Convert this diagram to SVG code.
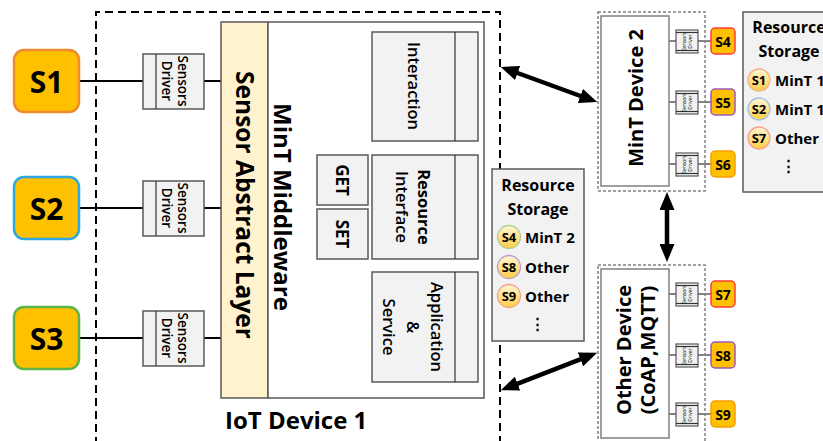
<svg xmlns="http://www.w3.org/2000/svg" width="823" height="441" viewBox="0 0 823 441">
<defs>
<style>
text{font-family:"Open Sans","Noto Sans","Liberation Sans",sans-serif;fill:#000}
.b{font-weight:700}
.sn{font-weight:700;font-size:30px}
.ss{font-weight:700;font-size:14px}
.big{fill:#FFC000;stroke-width:2.5}
.sm{fill:#FFC000;stroke-width:1.5}
.box{fill:#F2F2F2;stroke:#595959;stroke-width:1.5}
.drv{fill:#F2F2F2;stroke:#595959;stroke-width:1.2}
.ln{stroke:#000;stroke-width:2;fill:none}
.ln2{stroke:#333;stroke-width:1.2;fill:none}
.arr{stroke:#000;stroke-width:4.5;fill:none;marker-start:url(#ah);marker-end:url(#ah)}
.dash{fill:none;stroke:#000;stroke-width:2;stroke-dasharray:8 5}
.dot{fill:none;stroke:#808080;stroke-width:1.5;stroke-dasharray:3 2}
.circ{fill:url(#cg);stroke-width:1.3}
.st{font-weight:700;font-size:16px}
.it{font-weight:700;font-size:15px}
.cs{font-weight:700;font-size:13px}
.dt{font-size:13.5px;font-weight:600}
.bt{font-size:16.5px;font-weight:600}
</style>
<linearGradient id="cg" x1="0" y1="0" x2="0" y2="1">
<stop offset="0" stop-color="#FFF6D5"/>
<stop offset="1" stop-color="#FFCC44"/>
</linearGradient>
<marker id="ah" markerUnits="userSpaceOnUse" markerWidth="19" markerHeight="15" refX="6" refY="7.5" orient="auto-start-reverse" viewBox="0 0 19 15">
<path d="M0,0 L18,7.5 L0,15 z" fill="#000"/>
</marker>
</defs>

<!-- IoT Device 1 border -->
<path class="dash" d="M96,445 V12 H500 V445"/>

<g id="connectors">
<line class="ln" x1="79" y1="81" x2="143" y2="81"/>
<line class="ln" x1="204" y1="81" x2="221" y2="81"/>
<line class="ln" x1="79" y1="208" x2="143" y2="208"/>
<line class="ln" x1="204" y1="208" x2="221" y2="208"/>
<line class="ln" x1="79" y1="338" x2="143" y2="338"/>
<line class="ln" x1="204" y1="338" x2="221" y2="338"/>
<line class="ln2" x1="669" y1="41" x2="676" y2="41"/><line class="ln2" x1="698" y1="41" x2="711" y2="41"/>
<line class="ln2" x1="669" y1="102" x2="676" y2="102"/><line class="ln2" x1="698" y1="102" x2="711" y2="102"/>
<line class="ln2" x1="669" y1="164" x2="676" y2="164"/><line class="ln2" x1="698" y1="164" x2="711" y2="164"/>
<line class="ln2" x1="669" y1="294" x2="676" y2="294"/><line class="ln2" x1="698" y1="294" x2="711" y2="294"/>
<line class="ln2" x1="669" y1="355" x2="676" y2="355"/><line class="ln2" x1="698" y1="355" x2="711" y2="355"/>
<line class="ln2" x1="669" y1="414" x2="676" y2="414"/><line class="ln2" x1="698" y1="414" x2="711" y2="414"/>
<line class="arr" x1="512" y1="71" x2="586" y2="98"/>
<line class="arr" x1="512" y1="385.8" x2="586" y2="357.2"/>
<line class="arr" x1="667" y1="204" x2="667" y2="250"/>
</g>

<g id="S1"><rect class="big" x="14" y="50" width="65" height="62" rx="10" stroke="#F08A30"/><text class="sn" x="46.5" y="81" text-anchor="middle" dominant-baseline="central">S1</text></g>
<g id="S2"><rect class="big" x="14" y="177" width="65" height="62" rx="10" stroke="#2EA8E0"/><text class="sn" x="46.5" y="208" text-anchor="middle" dominant-baseline="central">S2</text></g>
<g id="S3"><rect class="big" x="14" y="307" width="65" height="62" rx="10" stroke="#5DB54A"/><text class="sn" x="46.5" y="338" text-anchor="middle" dominant-baseline="central">S3</text></g>

<g id="driver1"><rect class="box" x="143" y="54" width="61" height="55"/><line class="ln2" x1="156" y1="54" x2="156" y2="109"/>
<text class="dt" text-anchor="middle" dominant-baseline="central" transform="translate(175,81) rotate(90)"><tspan x="0" y="-8">Sensors</tspan><tspan x="0" y="8">Driver</tspan></text></g>
<g id="driver2"><rect class="box" x="143" y="181" width="61" height="55"/><line class="ln2" x1="156" y1="181" x2="156" y2="236"/>
<text class="dt" text-anchor="middle" dominant-baseline="central" transform="translate(175,208) rotate(90)"><tspan x="0" y="-8">Sensors</tspan><tspan x="0" y="8">Driver</tspan></text></g>
<g id="driver3"><rect class="box" x="143" y="311" width="61" height="55"/><line class="ln2" x1="156" y1="311" x2="156" y2="366"/>
<text class="dt" text-anchor="middle" dominant-baseline="central" transform="translate(175,338) rotate(90)"><tspan x="0" y="-8">Sensors</tspan><tspan x="0" y="8">Driver</tspan></text></g>

<g id="sal"><rect x="221" y="22" width="47" height="376" fill="#FFF2CC" stroke="#595959" stroke-width="1.5"/>
<text class="b" font-size="24.5" text-anchor="middle" dominant-baseline="central" transform="translate(245,205) rotate(90)">Sensor Abstract Layer</text></g>

<g id="middleware"><rect x="268" y="22" width="216" height="376" fill="#fff" stroke="#595959" stroke-width="1.5"/>
<text class="b" font-size="24" text-anchor="middle" dominant-baseline="central" transform="translate(283,207) rotate(90)">MinT Middleware</text></g>

<g id="interaction"><rect class="box" x="372" y="32" width="106" height="109"/><line class="ln2" x1="455" y1="32" x2="455" y2="141"/>
<text class="bt" text-anchor="middle" dominant-baseline="central" transform="translate(414,86) rotate(90)">Interaction</text></g>

<g id="resource-interface"><rect class="box" x="372" y="155" width="106" height="104"/><line class="ln2" x1="455" y1="155" x2="455" y2="259"/>
<text class="bt" text-anchor="middle" dominant-baseline="central" transform="translate(414,207) rotate(90)"><tspan x="0" y="-11" font-weight="700">Resource</tspan><tspan x="0" y="11">Interface</tspan></text></g>

<g id="get"><rect class="box" x="317" y="155" width="51" height="50"/>
<text class="b" font-size="17" text-anchor="middle" dominant-baseline="central" transform="translate(342.5,180) rotate(90)">GET</text></g>
<g id="set"><rect class="box" x="317" y="209" width="51" height="50"/>
<text class="b" font-size="17" text-anchor="middle" dominant-baseline="central" transform="translate(342.5,234) rotate(90)">SET</text></g>

<g id="application"><rect class="box" x="372" y="272" width="106" height="110"/><line class="ln2" x1="455" y1="272" x2="455" y2="382"/>
<text class="bt" text-anchor="middle" dominant-baseline="central" transform="translate(414,327) rotate(90)"><tspan x="0" y="-24">Application</tspan><tspan x="0" y="0">&amp;</tspan><tspan x="0" y="24">Service</tspan></text></g>

<g id="iot-device-1-label"><text class="b" font-size="24" x="225" y="429">IoT Device 1</text></g>

<g id="storage1"><rect class="box" x="492" y="169" width="92" height="172"/>
<text class="st" x="538" y="185" text-anchor="middle" dominant-baseline="central">Resource</text>
<text class="st" x="538" y="209" text-anchor="middle" dominant-baseline="central">Storage</text>
<circle class="circ" cx="509" cy="237" r="11.5" stroke="#A9D18E"/><text class="cs" x="509" y="237" text-anchor="middle" dominant-baseline="central">S4</text><text class="it" x="525" y="237" dominant-baseline="central">MinT 2</text>
<circle class="circ" cx="509" cy="267" r="11.5" stroke="#B4A0D0"/><text class="cs" x="509" y="267" text-anchor="middle" dominant-baseline="central">S8</text><text class="it" x="525" y="267" dominant-baseline="central">Other</text>
<circle class="circ" cx="509" cy="296" r="11.5" stroke="#F4A090"/><text class="cs" x="509" y="296" text-anchor="middle" dominant-baseline="central">S9</text><text class="it" x="525" y="296" dominant-baseline="central">Other</text>
<text class="it" x="537" y="323" text-anchor="middle" dominant-baseline="central">⋮</text></g>

<g id="mint-device-2"><rect class="dot" x="598" y="12" width="107" height="179"/>
<rect x="601" y="16" width="68" height="170" fill="#fff" stroke="#808080" stroke-width="1.5"/>
<text class="b" font-size="20" text-anchor="middle" dominant-baseline="central" transform="translate(635,98) rotate(-90)">MinT Device 2</text></g>

<g id="other-device"><rect class="dot" x="598" y="265" width="107" height="190"/>
<rect x="601" y="269" width="68" height="169" fill="#fff" stroke="#808080" stroke-width="1.5"/>
<text class="b" font-size="20" text-anchor="middle" dominant-baseline="central" transform="translate(635,350) rotate(-90)"><tspan x="0" y="-12">Other Device</tspan><tspan x="0" y="12">(CoAP,MQTT)</tspan></text></g>

<g id="small-drivers">
<g id="drv4"><rect class="drv" x="676" y="30" width="22" height="23"/><line class="ln2" x1="676" y1="32.5" x2="698" y2="32.5"/><line class="ln2" x1="676" y1="50.5" x2="698" y2="50.5"/><text font-size="5" text-anchor="middle" dominant-baseline="central" transform="translate(687,41.5) rotate(-90)"><tspan x="0" y="-3">Sensors</tspan><tspan x="0" y="3">Driver</tspan></text></g>
<g id="drv5"><rect class="drv" x="676" y="91" width="22" height="23"/><line class="ln2" x1="676" y1="93.5" x2="698" y2="93.5"/><line class="ln2" x1="676" y1="111.5" x2="698" y2="111.5"/><text font-size="5" text-anchor="middle" dominant-baseline="central" transform="translate(687,102.5) rotate(-90)"><tspan x="0" y="-3">Sensors</tspan><tspan x="0" y="3">Driver</tspan></text></g>
<g id="drv6"><rect class="drv" x="676" y="153" width="22" height="23"/><line class="ln2" x1="676" y1="155.5" x2="698" y2="155.5"/><line class="ln2" x1="676" y1="173.5" x2="698" y2="173.5"/><text font-size="5" text-anchor="middle" dominant-baseline="central" transform="translate(687,164.5) rotate(-90)"><tspan x="0" y="-3">Sensors</tspan><tspan x="0" y="3">Driver</tspan></text></g>
<g id="drv7"><rect class="drv" x="676" y="283" width="22" height="23"/><line class="ln2" x1="676" y1="285.5" x2="698" y2="285.5"/><line class="ln2" x1="676" y1="303.5" x2="698" y2="303.5"/><text font-size="5" text-anchor="middle" dominant-baseline="central" transform="translate(687,294.5) rotate(-90)"><tspan x="0" y="-3">Sensors</tspan><tspan x="0" y="3">Driver</tspan></text></g>
<g id="drv8"><rect class="drv" x="676" y="344" width="22" height="23"/><line class="ln2" x1="676" y1="346.5" x2="698" y2="346.5"/><line class="ln2" x1="676" y1="364.5" x2="698" y2="364.5"/><text font-size="5" text-anchor="middle" dominant-baseline="central" transform="translate(687,355.5) rotate(-90)"><tspan x="0" y="-3">Sensors</tspan><tspan x="0" y="3">Driver</tspan></text></g>
<g id="drv9"><rect class="drv" x="676" y="403" width="22" height="23"/><line class="ln2" x1="676" y1="405.5" x2="698" y2="405.5"/><line class="ln2" x1="676" y1="423.5" x2="698" y2="423.5"/><text font-size="5" text-anchor="middle" dominant-baseline="central" transform="translate(687,414.5) rotate(-90)"><tspan x="0" y="-3">Sensors</tspan><tspan x="0" y="3">Driver</tspan></text></g>
</g>

<g id="S4"><rect class="sm" x="711" y="28" width="24" height="26" rx="4" stroke="#FF3B3B"/><text class="ss" x="723" y="41" text-anchor="middle" dominant-baseline="central">S4</text></g>
<g id="S5"><rect class="sm" x="711" y="89" width="24" height="26" rx="4" stroke="#9B59B6"/><text class="ss" x="723" y="102" text-anchor="middle" dominant-baseline="central">S5</text></g>
<g id="S6"><rect class="sm" x="711" y="151" width="24" height="26" rx="4" stroke="#F5A000"/><text class="ss" x="723" y="164" text-anchor="middle" dominant-baseline="central">S6</text></g>
<g id="S7"><rect class="sm" x="711" y="281" width="24" height="26" rx="4" stroke="#FF3B3B"/><text class="ss" x="723" y="294" text-anchor="middle" dominant-baseline="central">S7</text></g>
<g id="S8"><rect class="sm" x="711" y="342" width="24" height="26" rx="4" stroke="#9B59B6"/><text class="ss" x="723" y="355" text-anchor="middle" dominant-baseline="central">S8</text></g>
<g id="S9"><rect class="sm" x="711" y="401" width="24" height="26" rx="4" stroke="#F5A000"/><text class="ss" x="723" y="414" text-anchor="middle" dominant-baseline="central">S9</text></g>

<g id="storage2"><rect class="box" x="743" y="12" width="92" height="180"/>
<text class="st" x="789" y="27" text-anchor="middle" dominant-baseline="central">Resource</text>
<text class="st" x="789" y="51" text-anchor="middle" dominant-baseline="central">Storage</text>
<circle class="circ" cx="759" cy="80" r="11" stroke="#F4B183"/><text class="cs" x="759" y="80" text-anchor="middle" dominant-baseline="central">S1</text><text class="it" x="775" y="80" dominant-baseline="central">MinT 1</text>
<circle class="circ" cx="759" cy="109" r="11" stroke="#9DC3E6"/><text class="cs" x="759" y="109" text-anchor="middle" dominant-baseline="central">S2</text><text class="it" x="775" y="109" dominant-baseline="central">MinT 1</text>
<circle class="circ" cx="759" cy="138" r="11" stroke="#F4A090"/><text class="cs" x="759" y="138" text-anchor="middle" dominant-baseline="central">S7</text><text class="it" x="775" y="138" dominant-baseline="central">Other</text>
<text class="it" x="788" y="165" text-anchor="middle" dominant-baseline="central">⋮</text></g>
</svg>
